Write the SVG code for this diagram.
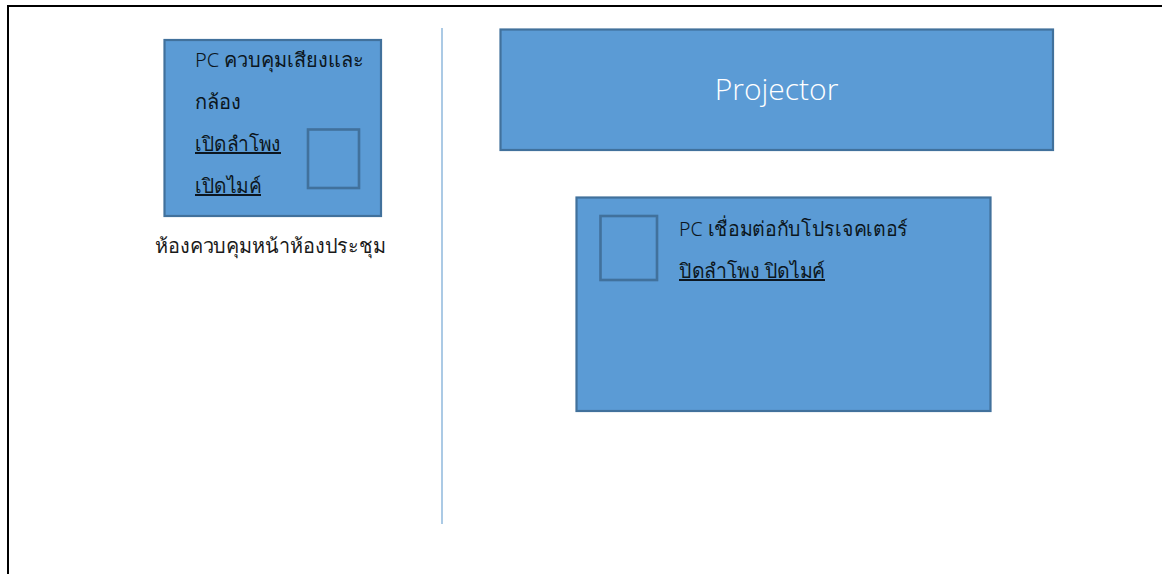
<svg xmlns="http://www.w3.org/2000/svg" width="1162" height="574" viewBox="0 0 1162 574">
<style>
.b{fill:#5b9bd5;stroke:#41719c;stroke-width:2.2}
.i{fill:#5b9bd5;stroke:#41719c;stroke-width:2.6}
text{font-family:"Noto Sans","DejaVu Sans",sans-serif;font-size:20px;font-weight:300;fill:#0c1620}
.u{text-decoration:underline}
</style>
<rect width="1162" height="574" fill="#fff"/>
<g id="frame"><path d="M8 574V6H1162" fill="none" stroke="#000" stroke-width="2"/></g>
<g id="connectors"><line x1="442" y1="28" x2="442" y2="524" stroke="#8fb8dc" stroke-width="1.5"/></g>
<g id="pc-control"><rect class="b" x="164.500" y="40" width="216.500" height="176"/>
<rect class="i" x="308" y="129.500" width="51" height="58.500"/>
<text x="195" y="67" textLength="169" lengthAdjust="spacingAndGlyphs">PC ควบคุมเสียงและ</text><text x="195" y="109" textLength="46" lengthAdjust="spacingAndGlyphs">กล้อง</text>
<text class="u" x="195" y="151" textLength="86" lengthAdjust="spacingAndGlyphs">เปิดลำโพง</text><text class="u" x="195" y="193" textLength="66" lengthAdjust="spacingAndGlyphs">เปิดไมค์</text></g>
<g id="label-room"><text x="155" y="253" textLength="231" lengthAdjust="spacingAndGlyphs" style="fill:#1a1a1a">ห้องควบคุมหน้าห้องประชุม</text></g>
<g id="projector"><rect class="b" x="500.500" y="29.500" width="552.500" height="120.500"/>
<text x="776.500" y="100" text-anchor="middle" style="font-size:30px;fill:#fff;font-family:'Open Sans',sans-serif;font-weight:300">Projector</text></g>
<g id="pc-projector"><rect class="b" x="576.500" y="197.500" width="414" height="213.500"/>
<rect class="i" x="600.500" y="216" width="56.500" height="64"/>
<text x="679" y="236" textLength="229" lengthAdjust="spacingAndGlyphs">PC เชื่อมต่อกับโปรเจคเตอร์</text>
<text class="u" x="679" y="278" textLength="146" lengthAdjust="spacingAndGlyphs">ปิดลำโพง ปิดไมค์</text></g>
</svg>
